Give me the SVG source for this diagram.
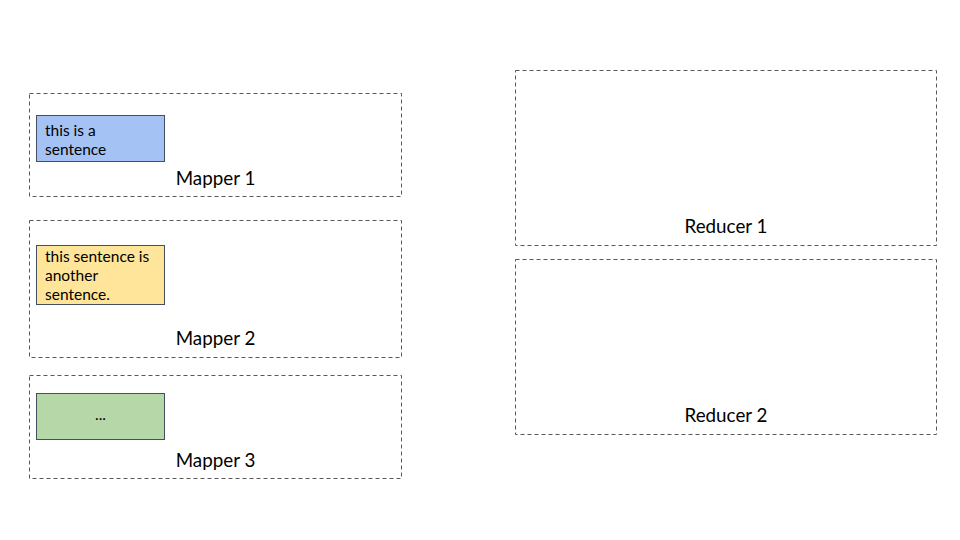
<svg xmlns="http://www.w3.org/2000/svg" width="960" height="540" viewBox="0 0 960 540">
<style>
.grp{fill:none;stroke:#595959;stroke-width:1;stroke-dasharray:4,3}
.item{stroke:#434f5e;stroke-width:1}
.lbl{font-family:Lato,"Liberation Sans",sans-serif;font-size:18.8px;fill:#000;text-anchor:middle}
.txt{font-family:Lato,"Liberation Sans",sans-serif;font-size:15.5px;fill:#000}
</style>
<rect width="960" height="540" fill="#fff"/>
<g id="mapper1">
<rect class="grp" x="29.5" y="93.5" width="372" height="103"/>
<text class="lbl" x="215.5" y="185">Mapper 1</text>
</g>
<g id="mapper2">
<rect class="grp" x="29.5" y="220.5" width="372" height="137"/>
<text class="lbl" x="215.5" y="345">Mapper 2</text>
</g>
<g id="mapper3">
<rect class="grp" x="29.5" y="375.5" width="372" height="103"/>
<text class="lbl" x="215.5" y="467">Mapper 3</text>
</g>
<g id="reducer1">
<rect class="grp" x="515.5" y="70.5" width="421" height="175"/>
<text class="lbl" x="726" y="233">Reducer 1</text>
</g>
<g id="reducer2">
<rect class="grp" x="515.5" y="259.5" width="421" height="175"/>
<text class="lbl" x="726" y="422">Reducer 2</text>
</g>
<g id="input1">
<rect class="item" x="36.5" y="115.5" width="128" height="46" fill="#a4c2f4"/>
<text class="txt" x="45" y="136">this is a</text>
<text class="txt" x="45" y="155">sentence</text>
</g>
<g id="input2">
<rect class="item" x="36.5" y="245.5" width="128" height="59" fill="#ffe599"/>
<text class="txt" x="45" y="262">this sentence is</text>
<text class="txt" x="45" y="281">another</text>
<text class="txt" x="45" y="300">sentence.</text>
</g>
<g id="input3">
<rect class="item" x="36.5" y="393.5" width="128" height="46" fill="#b6d7a8"/>
<text class="txt" x="100.5" y="420" text-anchor="middle">...</text>
</g>
<g id="connectors"></g>
</svg>
